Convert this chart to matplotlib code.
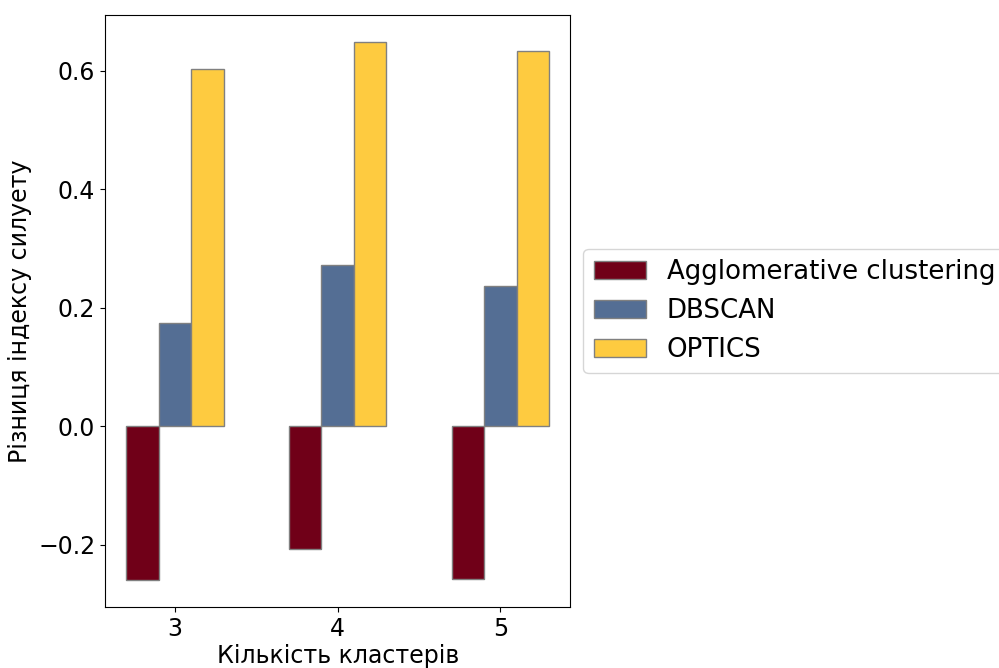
import numpy as np
import matplotlib.pyplot as plt

clusters = [3, 4, 5]
agglomerative = [-0.260, -0.207, -0.258]
dbscan = [0.175, 0.273, 0.236]
optics = [0.603, 0.649, 0.634]

fig = plt.figure(figsize=(9.99, 6.68), dpi=100)
ax = fig.add_axes([0.105, 0.0913, 0.466, 0.8862])

x = np.array(clusters)
w = 0.2
ax.bar(x - w, agglomerative, width=w, color='#700018', edgecolor='grey', label='Agglomerative clustering')
ax.bar(x, dbscan, width=w, color='#546e94', edgecolor='grey', label='DBSCAN')
ax.bar(x + w, optics, width=w, color='#fecb40', edgecolor='grey', label='OPTICS')

ax.set_xticks(clusters)
ax.tick_params(labelsize=17)
ax.set_xlabel('Кількість кластерів', fontsize=17, labelpad=2)
ax.set_ylabel('Різниця індексу силуету', fontsize=17)
ax.legend(loc='center left', bbox_to_anchor=(1.0, 0.5), fontsize=18.7)

fig.savefig('out.png', dpi=100)
